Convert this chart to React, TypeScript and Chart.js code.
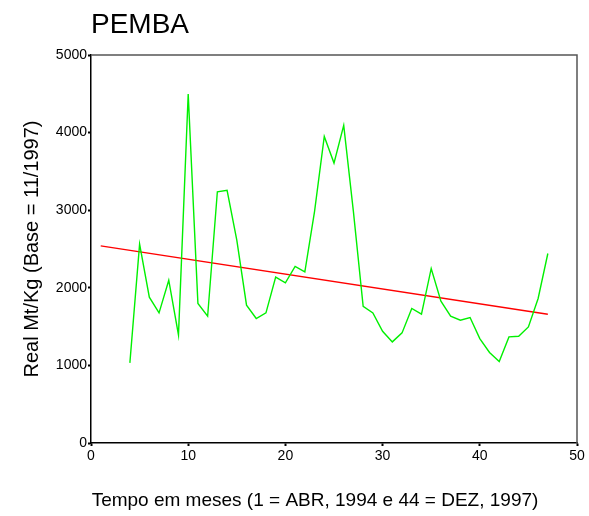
import React, { useEffect, useRef } from "react";
import { Chart, registerables } from "chart.js";

Chart.register(...registerables);

const TITLE = "PEMBA";
const X_TITLE = "Tempo em meses (1 = ABR, 1994 e 44 = DEZ, 1997)";
const Y_TITLE = "Real Mt/Kg (Base = 11/1997)";

const months = [
  4, 5, 6, 7, 8, 9, 10, 11, 12, 13, 14, 15, 16, 17, 18, 19, 20, 21, 22, 23, 24, 25,
  26, 27, 28, 29, 30, 31, 32, 33, 34, 35, 36, 37, 38, 39, 40, 41, 42, 43, 44, 45, 46, 47,
];
const prices = [
  1032, 2563, 1879, 1677, 2098, 1393, 4497, 1798, 1634, 3237, 3255, 2614, 1776, 1604,
  1677, 2137, 2064, 2275, 2206, 2985, 3950, 3607, 4093, 2979, 1760, 1677, 1440, 1303,
  1419, 1733, 1660, 2249, 1827, 1634, 1582, 1617, 1346, 1166, 1050, 1367, 1376, 1496,
  1862, 2442,
];
const trendX = [1, 47];
const trendY = [2541, 1660];

const X_MIN = 0, X_MAX = 50, X_STEP = 10;
const Y_MIN = 0, Y_MAX = 5000, Y_STEP = 1000;

const FONT = "'Liberation Sans', Arial, sans-serif";

const textPlugin = {
  id: "texts",
  afterDraw(chart: any) {
    const { ctx, chartArea } = chart;
    ctx.save();
    ctx.strokeStyle = "#555555";
    ctx.lineWidth = 1.5;
    ctx.beginPath();
    ctx.moveTo(chartArea.left, chartArea.top);
    ctx.lineTo(chartArea.right, chartArea.top);
    ctx.lineTo(chartArea.right, chartArea.bottom);
    ctx.stroke();
    ctx.fillStyle = "#000";
    ctx.font = `28px ${FONT}`;
    ctx.textAlign = "left";
    ctx.textBaseline = "alphabetic";
    ctx.fillText(TITLE, 91, 33);
    ctx.font = `19px ${FONT}`;
    ctx.textAlign = "center";
    ctx.textBaseline = "middle";
    ctx.fillText(X_TITLE, 315, 501);
    ctx.translate(32, 249);
    ctx.rotate(-Math.PI / 2);
    ctx.font = `20px ${FONT}`;
    ctx.fillText(Y_TITLE, 0, 0);
    ctx.restore();
  },
};

export default function App() {
  const ref = useRef<HTMLCanvasElement>(null);
  useEffect(() => {
    const chart = new Chart(ref.current!, {
      type: "line",
      data: {
        datasets: [
          {
            data: months.map((m, i) => ({ x: m, y: prices[i] })),
            borderColor: "#00f000",
            borderWidth: 1.4,
            pointRadius: 0,
            tension: 0,
          },
          {
            data: trendX.map((m, i) => ({ x: m, y: trendY[i] })),
            borderColor: "#ff0000",
            borderWidth: 1.4,
            pointRadius: 0,
            tension: 0,
          },
        ],
      },
      options: {
        animation: false,
        responsive: false,
        layout: { padding: { left: 0, top: 55, right: 12, bottom: 0 } },
        plugins: { legend: { display: false }, tooltip: { enabled: false }, title: { display: false } },
        scales: {
          x: {
            type: "linear",
            min: X_MIN,
            max: X_MAX,
            ticks: { stepSize: X_STEP, color: "#000", font: { family: FONT, size: 14 }, padding: 2, maxRotation: 0, callback: (v: any) => String(v) },
            grid: { display: true, drawOnChartArea: false, drawTicks: true, tickLength: 3, tickWidth: 2, tickColor: "#000" },
            border: { display: true, color: "#000", width: 1.5 },
            afterFit: (s: any) => { s.height = 73; },
          },
          y: {
            type: "linear",
            min: Y_MIN,
            max: Y_MAX,
            ticks: { stepSize: Y_STEP, color: "#000", font: { family: FONT, size: 14 }, padding: 1, callback: (v: any) => String(v) },
            grid: { display: true, drawOnChartArea: false, drawTicks: true, tickLength: 3, tickWidth: 2, tickColor: "#000" },
            border: { display: true, color: "#000", width: 1.5 },
            afterFit: (s: any) => { s.width = 91; },
          },
        },
      },
      plugins: [textPlugin],
    } as any);
    return () => chart.destroy();
  }, []);
  return (
    <div style={{ position: "absolute", left: 0, top: 0, width: 589, height: 516, background: "#fff" }}>
      <canvas ref={ref} width={589} height={516} style={{ display: "block" }} />
    </div>
  );
}
